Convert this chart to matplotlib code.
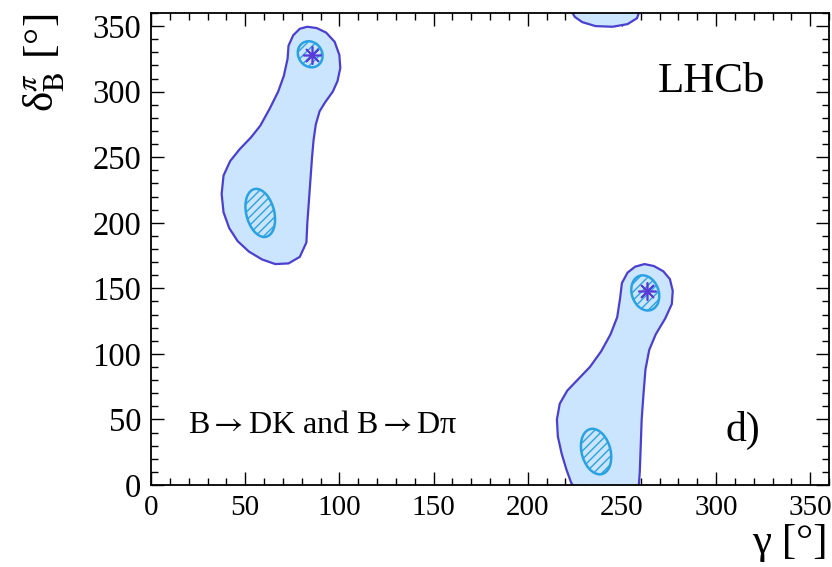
"""Two-dimensional confidence regions in the (gamma, delta_B^pi) plane."""

import matplotlib
matplotlib.use("Agg")
import matplotlib.pyplot as plt
from matplotlib.patches import Ellipse
from matplotlib.ticker import MultipleLocator

plt.rcParams["font.family"] = ["Liberation Serif", "DejaVu Serif"]
plt.rcParams["mathtext.fontset"] = "stix"
plt.rcParams["hatch.linewidth"] = 1.0

# outer (95%) contour near gamma ~ 70 deg
left_gamma = [83, 88, 93, 97.5, 100, 100.5, 99, 96.5, 92.5, 89.5, 87.5, 86.3,
              85.5, 84.8, 84, 83, 82.5, 79, 73, 66, 59, 52, 46, 41.5, 38.5,
              37.5, 38.5, 42, 47, 53, 58, 63, 67.5, 70.5, 72.5, 73, 75.5, 79]
left_delta = [349.5, 348.5, 345, 338, 328, 318, 308, 300, 292, 285, 275, 263,
              250, 236, 220, 200, 185, 174, 169, 168.5, 172, 178, 186, 196,
              208, 222, 236, 247, 256, 265, 274, 287, 300, 312, 325, 335, 343,
              348]

# outer contour near gamma ~ 250 deg (wraps around delta = 0 / 360)
right_gamma = [262, 267, 272, 275.5, 277, 276.5, 273, 268, 264.5, 262.5, 261.5,
               260.5, 260, 259.5, 259, 258, 253, 245, 236, 229, 225, 223,
               220.5, 218, 216, 215.5, 217, 221, 227, 233, 239, 244, 247.5,
               249, 250, 253, 257]
right_delta = [168.5, 167, 163, 157, 148, 138, 127, 115, 103, 88, 70, 50, 30,
               10, 0, -4, -8.5, -10.5, -10, -7, -3, 2, 12, 24, 37, 50, 62, 72,
               81, 90, 102, 115, 128, 142, 154, 162, 166.5]

# inner (68%) regions: centre, full width, full height, tilt
inner_gamma = [84.5, 58.0, 262.4, 236.3]
inner_delta = [328.5, 207.5, 146.5, 25.5]
inner_width = [13.0, 15.0, 14.5, 15.5]
inner_height = [20.0, 37.0, 27.0, 35.0]
inner_angle = [8, 8, 8, 8]

# best-fit points
best_gamma = [85.5, 263.5]
best_delta = [328.0, 148.0]

fill_col = "#cce5ff"
line_col = "#4b3fcf"
inner_col = "#2aa2e2"
star_col = "#5a3ad6"

fig = plt.figure(figsize=(8.32, 5.67), dpi=100)
ax = fig.add_axes([0.1815, 0.1446, 0.8150, 0.8325])

ax.fill(left_gamma, left_delta, facecolor=fill_col, edgecolor=line_col,
        linewidth=1.6, zorder=2)
for shift in (0, 360):
    ax.fill(right_gamma, [d + shift for d in right_delta], facecolor=fill_col,
            edgecolor=line_col, linewidth=1.6, zorder=2)

for g, d, w, h, a in zip(inner_gamma, inner_delta, inner_width, inner_height,
                         inner_angle):
    ax.add_patch(Ellipse((g, d), w, h, angle=a, facecolor=fill_col,
                         edgecolor=inner_col, linewidth=1.8, hatch="////",
                         zorder=3))

ax.plot(best_gamma, best_delta, linestyle="none", marker=(8, 2, 0),
        markersize=13, markeredgewidth=1.2, color=star_col, zorder=4)

ax.set_xlim(0, 360)
ax.set_ylim(0, 360)
ax.xaxis.set_major_locator(MultipleLocator(50))
ax.xaxis.set_minor_locator(MultipleLocator(10))
ax.yaxis.set_major_locator(MultipleLocator(50))
ax.yaxis.set_minor_locator(MultipleLocator(10))
ax.tick_params(which="both", direction="in", top=True, right=True,
               labelsize=23.5, width=1.0)
ax.tick_params(axis="x", labelsize=21)
ax.tick_params(which="major", length=9.5, pad=7)
ax.tick_params(which="minor", length=5)
for s in ax.spines.values():
    s.set_linewidth(1.3)

fig.text(0.053, 0.975, r"δ$_{\rm B}^{\pi}$ [°]", rotation=90,
         ha="center", va="top", fontsize=31)
fig.text(0.995, 0.042, "γ [°]", ha="right", va="center", fontsize=31)

ax.text(0.827, 0.854, "LHCb", transform=ax.transAxes, ha="center",
        va="center", fontsize=31)
ax.text(0.873, 0.115, "d)", transform=ax.transAxes, ha="center",
        va="center", fontsize=30)
ax.text(0.055, 0.127, r"B$\rightarrow$DK and B$\rightarrow$Dπ",
        transform=ax.transAxes, ha="left", va="center", fontsize=23)

fig.savefig("out.png", dpi=100)
plt.close(fig)
